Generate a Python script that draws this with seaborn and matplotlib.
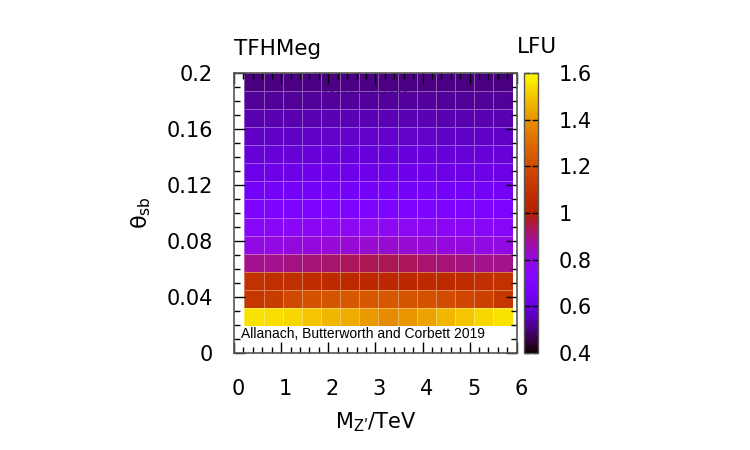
"""
LFU heatmap for the TFHMeg model over (M_Z', theta_sb).
"""
import numpy  as np
import pandas as pd

import matplotlib.pyplot as plt
import matplotlib.ticker as mticker
import matplotlib.transforms as mtrans
import seaborn           as sns

# ================================================================================
# Data
# ================================================================================
# cell grid: 14 columns in M_Z' (TeV), 14 rows in theta_sb
m_lo,  m_hi  = 0.22, 5.91
th_lo, th_hi = 0.0191, 0.2

# LFU per cell, rows from lowest theta_sb (bottom) to highest (top)
lfu = [
    [1.55, 1.54, 1.53, 1.50, 1.47, 1.45, 1.41, 1.38, 1.40, 1.43, 1.47, 1.50, 1.53, 1.55],
    [1.12, 1.14, 1.19, 1.22, 1.23, 1.24, 1.24, 1.24, 1.23, 1.22, 1.20, 1.18, 1.16, 1.12],
    [1.09, 1.08, 1.08, 1.07, 1.06, 1.06, 1.05, 1.05, 1.05, 1.06, 1.06, 1.07, 1.08, 1.09],
    [0.89, 0.89, 0.90, 0.91, 0.92, 0.93, 0.935, 0.935, 0.93, 0.92, 0.91, 0.90, 0.89, 0.89],
    [0.79, 0.79, 0.80, 0.80, 0.81, 0.815, 0.82, 0.82, 0.815, 0.81, 0.80, 0.80, 0.79, 0.79],
    [0.745, 0.75, 0.75, 0.755, 0.76, 0.765, 0.765, 0.765, 0.765, 0.76, 0.755, 0.75, 0.75, 0.745],
    [0.685, 0.685, 0.69, 0.69, 0.695, 0.695, 0.70, 0.70, 0.695, 0.695, 0.69, 0.69, 0.685, 0.685],
    [0.65, 0.65, 0.655, 0.655, 0.66, 0.66, 0.66, 0.66, 0.66, 0.66, 0.655, 0.655, 0.65, 0.65],
    [0.618, 0.62, 0.62, 0.622, 0.625, 0.625, 0.625, 0.625, 0.625, 0.622, 0.62, 0.62, 0.62, 0.618],
    [0.593, 0.594, 0.595, 0.596, 0.597, 0.598, 0.598, 0.598, 0.598, 0.597, 0.596, 0.595, 0.594, 0.593],
    [0.570, 0.571, 0.572, 0.573, 0.574, 0.575, 0.575, 0.575, 0.575, 0.574, 0.573, 0.572, 0.571, 0.570],
    [0.546, 0.547, 0.548, 0.549, 0.550, 0.550, 0.551, 0.551, 0.550, 0.550, 0.549, 0.548, 0.547, 0.546],
    [0.523, 0.524, 0.525, 0.526, 0.527, 0.527, 0.527, 0.527, 0.527, 0.527, 0.526, 0.525, 0.524, 0.523],
    [0.503, 0.504, 0.505, 0.506, 0.506, 0.507, 0.507, 0.507, 0.507, 0.506, 0.506, 0.505, 0.504, 0.503],
]

# faint dashed contour near the top
contour_m     = [1.9, 2.3, 2.8, 3.3, 3.75]
contour_theta = [0.1870, 0.1862, 0.1858, 0.1862, 0.1870]

x_ticks   = [0, 1, 2, 3, 4, 5, 6]
y_ticks   = [0, 0.04, 0.08, 0.12, 0.16, 0.2]
y_labels  = ["0", "0.04", "0.08", "0.12", "0.16", "0.2"]
cb_ticks  = [0.4, 0.6, 0.8, 1.0, 1.2, 1.4, 1.6]
cb_labels = ["0.4", "0.6", "0.8", "1", "1.2", "1.4", "1.6"]

# ================================================================================
# Plot
# ================================================================================
sns.reset_defaults()
plt.rcParams["font.family"] = ["DejaVu Sans"]
fs = 15

fig = plt.figure(figsize=(7.5, 4.5), dpi=100)
ax  = fig.add_axes([0.312, 0.216, 0.377, 0.622])
cax = fig.add_axes([0.699, 0.216, 0.0187, 0.622])

df = pd.DataFrame(lfu[::-1])  # seaborn draws first row at the top

# heatmap sits in an inset spanning the cell region, below the main ticks
hm_ax = ax.inset_axes([m_lo, th_lo, m_hi - m_lo, th_hi - th_lo],
                      transform=ax.transData, zorder=1)
sns.heatmap(
    df, ax=hm_ax, cmap="gnuplot", vmin=0.4, vmax=1.6,
    linewidths=0.6, linecolor=(1, 1, 1, 0.35),
    xticklabels=False, yticklabels=False, cbar_ax=cax,
)
hm_ax.set_axis_off()

ax.plot(contour_m, contour_theta, ls=(0, (3, 3)), lw=0.8, color="#2a0050", alpha=0.6, zorder=2)

# --------------------------------------------------------------------------------
# Axes, ticks, labels
# --------------------------------------------------------------------------------
ax.set_xlim(0, 6)
ax.set_ylim(0, 0.2)
ax.set_xticks(x_ticks)
ax.set_xticklabels([str(t) for t in x_ticks])
ax.set_yticks(y_ticks)
ax.set_yticklabels(y_labels)
ax.xaxis.set_minor_locator(mticker.MultipleLocator(0.2))
ax.yaxis.set_minor_locator(mticker.MultipleLocator(0.01))
ax.tick_params(which="both", direction="in", top=True, right=True, bottom=True, left=True,
               color="black", width=1)
ax.tick_params(which="major", length=8, labelsize=fs)
ax.tick_params(which="minor", length=4)
ax.tick_params(axis="x", which="major", pad=19)
ax.tick_params(axis="y", which="major", pad=15)
for s in ax.spines.values():
    s.set_color("#555555")
    s.set_linewidth(1.2)

# gnuplot puts the x labels a touch to the right
shift = mtrans.ScaledTranslation(4 / 100, 0, fig.dpi_scale_trans)
for lab in ax.get_xticklabels():
    lab.set_transform(lab.get_transform() + shift)

ax.set_xlabel("M$_\\mathregular{Zʹ}$/TeV", fontsize=fs, labelpad=8)
ax.set_ylabel("θ$_\\mathregular{sb}$", fontsize=fs + 1, labelpad=10)
ax.set_title("TFHMeg", loc="left", fontsize=fs + 0.5, pad=13)

ax.text(0.15, 0.0135, "Allanach, Butterworth and Corbett 2019", fontsize=10,
        family="Liberation Sans", va="center", ha="left", zorder=3)

# --------------------------------------------------------------------------------
# Colour bar
# --------------------------------------------------------------------------------
cbar = hm_ax.collections[0].colorbar
cbar.set_ticks(cb_ticks)
cbar.set_ticklabels(cb_labels)
cbar.outline.set_edgecolor("#555555")
cbar.outline.set_linewidth(1.0)
cax.tick_params(direction="in", length=4, width=1, color="black", labelsize=fs, pad=15,
                left=True, right=True)
fig.text(0.716, 0.882, "LFU", fontsize=fs + 0.5, ha="center", va="baseline")

plt.savefig("out.png", dpi=100)
